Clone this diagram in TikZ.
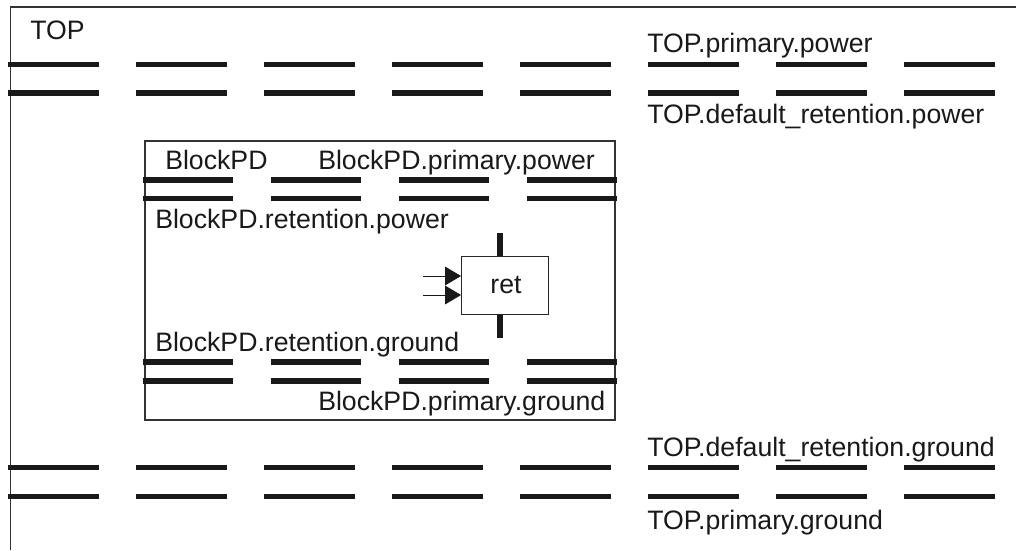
\documentclass[tikz,border=0pt]{standalone}
\usepackage{fontspec}
\setmainfont{Liberation Sans}
\usetikzlibrary{arrows.meta}
\usetikzlibrary{positioning}
\tikzset{
    frame/.style={draw=black!80, line width=0.9pt},
    rail/.style={draw=black!90, line width=3.8pt},
    label/.style={anchor=base west, inner sep=0pt, font=\fontsize{20pt}{22pt}\selectfont, text=black!90},
    cell/.style={
      rectangle,
      draw=black!85, line width=0.9pt,
      minimum width=65pt,
      minimum height=43pt,
      inner sep=0pt,
      font=\fontsize{20pt}{22pt}\selectfont,
      text=black!90,
    },
}

\begin{document}
\begin{tikzpicture}[x=0.75pt,y=-0.75pt,>={Triangle[length=12pt,width=14pt]}]

    \useasboundingbox (0,0) rectangle (1016,550);

    % outer frame, open on the right and at the bottom
    \coordinate (topNW) at (10.5,7);
    \coordinate (topNE) at (1016,7);
    \coordinate (topSW) at (10.5,550);
    \draw[frame] (topNE) -- (topNW) -- (topSW);

    % block frame
    \coordinate (blockNW) at (145,141);
    \coordinate (blockSE) at (615,420);
    \draw[frame] (blockNW) rectangle (blockSE);

    % top level rails
    \foreach \y/\name in {64.5/a,93/b,467.5/c,496.5/d}
      \foreach \i in {0,...,7} {
        \coordinate (\name\i L) at (8+128*\i,\y);
        \coordinate (\name\i R) at (99+128*\i,\y);
        \draw[rail] (\name\i L) -- (\name\i R);
      }

    % block level rails
    \foreach \y/\name in {180/e,198.5/f,362/g,381/h}
      \foreach \i in {0,...,3} {
        \coordinate (\name\i L) at (143+128*\i,\y);
        \coordinate (\name\i R) at (233+128*\i,\y);
        \draw[rail] (\name\i L) -- (\name\i R);
      }

    % retention cell
    \node[cell] (ret) at (505,285.5) {\hspace{1.5pt}\raisebox{-1.5pt}{ret}};
    \coordinate (retPwr) at (500,233);
    \coordinate (retGnd) at (500,338);
    \coordinate (retIn1) at (423,276);
    \coordinate (retIn2) at (423,295);
    \draw[rail] (retPwr) -- (retPwr |- ret.north);
    \draw[rail] (retGnd) -- (retGnd |- ret.south);
    \draw[->, black!90, line width=0.7pt] (retIn1) -- (retIn1 -| ret.west);
    \draw[->, black!90, line width=0.7pt] (retIn2) -- (retIn2 -| ret.west);

    % labels
    \node[label] (lblTop) at (30,39) {TOP};
    \node[label] (lblTopPP) at (647,52) {TOP.primary.power};
    \node[label] (lblTopRP) at (647,123) {TOP.default\_retention.power};
    \node[label] (lblBlock) at (165,169) {BlockPD};
    \node[label] (lblBlockPP) at (318,169) {BlockPD.primary.power};
    \node[label] (lblBlockRP) at (155,228) {BlockPD.retention.power};
    \node[label] (lblBlockRG) at (155,351) {BlockPD.retention.ground};
    \node[label] (lblBlockPG) at (318,410) {BlockPD.primary.ground};
    \node[label] (lblTopRG) at (647,456) {TOP.default\_retention.ground};
    \node[label] (lblTopPG) at (647,529) {TOP.primary.ground};

\end{tikzpicture}
\end{document}
